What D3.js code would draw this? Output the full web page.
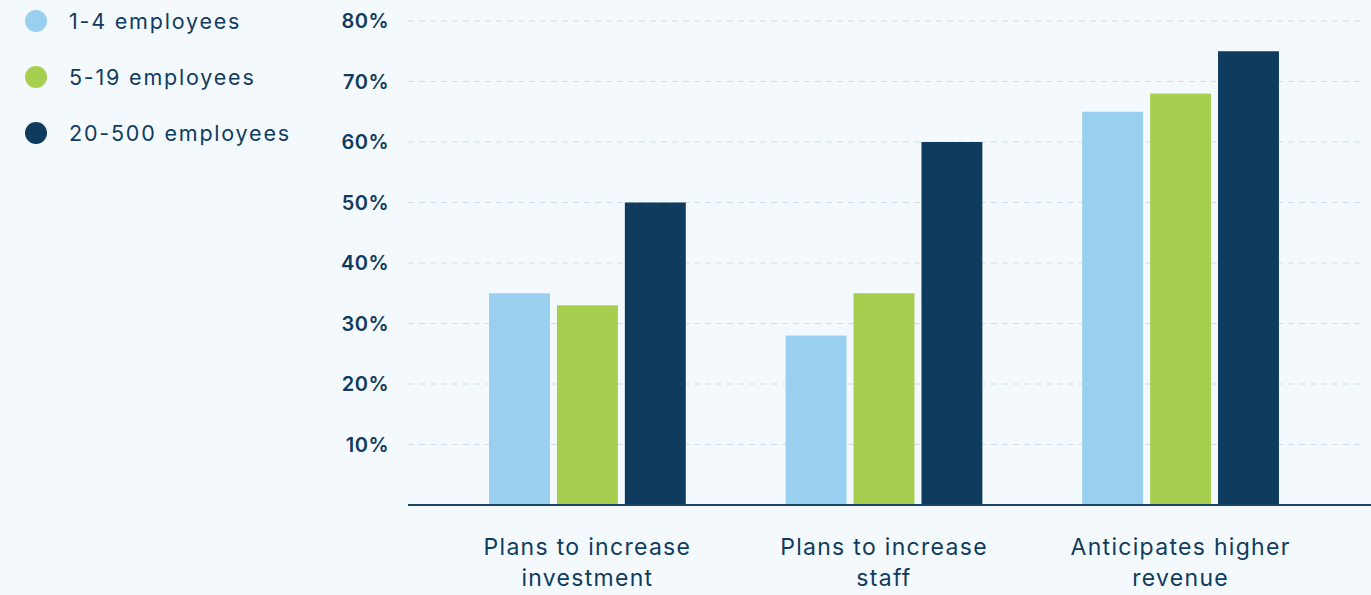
<!DOCTYPE html>
<html>
<head>
<meta charset="utf-8">
<script src="https://cdn.jsdelivr.net/npm/d3@7"></script>
<style>
  html, body { margin: 0; padding: 0; background: #f4f9fd; }
  svg { display: block; font-family: Inter, "Open Sans", sans-serif; }
</style>
</head>
<body>
<svg id="chart" width="1371" height="595"></svg>
<script>
// data
const categories = [["Plans to increase", "investment"], ["Plans to increase", "staff"], ["Anticipates higher", "revenue"]];
const series = ["1-4 employees", "5-19 employees", "20-500 employees"];
const colors = ["#99cfef", "#a6ce4f", "#0f3c5e"];
const values = [
  [35, 28, 65],  // 1-4
  [33, 35, 68],  // 5-19
  [50, 60, 75]   // 20-500
];
const yTicks = [10, 20, 30, 40, 50, 60, 70, 80];

const textColor = "#0f3c5e";
const svg = d3.select("#chart");

const catKeys = categories.map((c) => c.join(" "));

// scales
const y = d3.scaleLinear().domain([0, 80]).range([505, 21]);
const x0 = d3.scaleBand().domain(catKeys).range([406, 1362]).paddingInner(0.3367).paddingOuter(0.28);
const x1 = d3.scaleBand().domain(series).range([0, x0.bandwidth()]).paddingInner(0.103);

// gridlines
svg.append("g")
  .selectAll("line")
  .data(yTicks)
  .join("line")
  .attr("x1", 408)
  .attr("x2", 1363)
  .attr("y1", (d) => y(d))
  .attr("y2", (d) => y(d))
  .attr("stroke", "#cfdfea")
  .attr("stroke-width", 1.2)
  .attr("stroke-dasharray", "6,5");

// y labels
svg.append("g")
  .selectAll("text")
  .data(yTicks)
  .join("text")
  .attr("x", 389)
  .attr("y", (d) => y(d))
  .attr("dy", "0.36em")
  .attr("text-anchor", "end")
  .attr("fill", textColor)
  .style("font-size", "20px")
  .style("font-weight", 600)
  .style("letter-spacing", "0.5px")
  .text((d) => d + "%");

// bars
const groups = svg.append("g")
  .selectAll("g")
  .data(catKeys)
  .join("g")
  .attr("transform", (d) => "translate(" + x0(d) + ",0)");

groups.selectAll("rect")
  .data((d, i) => series.map((s, j) => ({ s: s, v: values[j][i], c: colors[j] })))
  .join("rect")
  .attr("x", (d) => x1(d.s))
  .attr("y", (d) => y(d.v))
  .attr("width", x1.bandwidth())
  .attr("height", (d) => y(0) - y(d.v))
  .attr("fill", (d) => d.c);

// x axis line
svg.append("line")
  .attr("x1", 408)
  .attr("x2", 1371)
  .attr("y1", y(0))
  .attr("y2", y(0))
  .attr("stroke", "#1a4566")
  .attr("stroke-width", 2);

// x labels
const xl = svg.append("g")
  .selectAll("text")
  .data(categories)
  .join("text")
  .attr("x", (d, i) => x0(catKeys[i]) + x0.bandwidth() / 2)
  .attr("y", 555)
  .attr("text-anchor", "middle")
  .attr("fill", textColor)
  .style("font-size", "23px")
  .style("letter-spacing", "1.3px");
xl.selectAll("tspan")
  .data((d) => d)
  .join("tspan")
  .attr("x", function () { return d3.select(this.parentNode).attr("x"); })
  .attr("dy", (d, i) => (i === 0 ? 0 : 31))
  .text((d) => d);

// legend
const leg = svg.append("g")
  .selectAll("g")
  .data(series)
  .join("g")
  .attr("transform", (d, i) => "translate(0," + (21 + i * 56) + ")");
leg.append("circle")
  .attr("cx", 36)
  .attr("cy", 0)
  .attr("r", 11)
  .attr("fill", (d, i) => colors[i]);
leg.append("text")
  .attr("x", 69)
  .attr("y", 0)
  .attr("dy", "0.36em")
  .attr("fill", textColor)
  .style("font-size", "21.5px")
  .style("letter-spacing", "1.8px")
  .text((d) => d);
</script>
</body>
</html>
